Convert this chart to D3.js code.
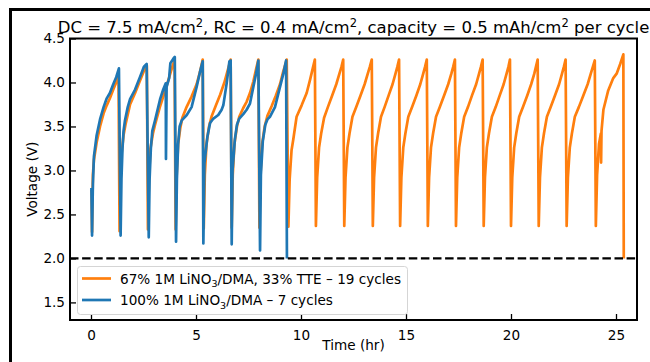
<!DOCTYPE html>
<html>
<head>
<meta charset="utf-8">
<script src="https://cdn.jsdelivr.net/npm/d3@7"></script>
<style>
  body { margin: 0; background: #fff; }
  svg { display: block; font-family: 'DejaVu Sans', sans-serif; }
</style>
</head>
<body>
<svg id="chart"></svg>
<script>
const WIDTH = 650;
const HEIGHT = 362;

// [time (hr), voltage (V)]
const ttePoints = [
	[0.03, 2.78], [0.05, 2.30], [0.09, 2.95], [0.14, 3.12], [0.27, 3.32], [0.43, 3.50], [0.60, 3.65], [0.75, 3.74], [0.90, 3.82], [1.06, 3.92], [1.20, 4.00], [1.31, 4.08],
	[1.36, 2.31], [1.40, 2.85], [1.46, 3.20], [1.55, 3.40], [1.65, 3.53], [1.86, 3.75], [2.10, 3.88], [2.33, 4.02], [2.52, 4.13], [2.66, 4.19],
	[2.71, 2.33], [2.76, 2.90], [2.83, 3.25], [2.95, 3.42], [3.05, 3.52], [3.29, 3.73], [3.44, 3.84], [3.60, 3.96], [3.75, 4.08], [3.90, 4.20], [3.98, 4.25],
	[4.03, 2.33], [4.08, 2.95], [4.15, 3.30], [4.25, 3.48], [4.35, 3.60], [4.55, 3.72], [4.79, 3.84], [5.03, 3.98], [5.19, 4.12], [5.32, 4.26],
	[5.37, 2.34], [5.42, 2.95], [5.50, 3.30], [5.62, 3.50], [5.75, 3.62], [5.95, 3.74], [6.15, 3.86], [6.35, 4.00], [6.50, 4.13], [6.65, 4.26],
	[6.70, 2.35], [6.75, 2.95], [6.83, 3.30], [6.95, 3.50], [7.06, 3.61], [7.25, 3.71], [7.41, 3.78], [7.57, 3.88], [7.73, 4.01], [7.87, 4.16], [7.97, 4.26],
	[8.02, 2.35], [8.07, 2.95], [8.15, 3.30], [8.27, 3.50], [8.40, 3.62], [8.60, 3.73], [8.80, 3.85], [9.00, 3.98], [9.15, 4.12], [9.32, 4.26],
	[9.40, 2.36], [9.46, 2.90], [9.55, 3.23], [9.63, 3.35], [9.79, 3.61], [10.03, 3.74], [10.27, 3.88], [10.43, 4.03], [10.56, 4.16], [10.66, 4.26],
	[10.71, 2.37], [10.77, 2.92], [10.86, 3.26], [10.96, 3.42], [11.10, 3.60], [11.28, 3.72], [11.48, 3.85], [11.68, 3.98], [11.83, 4.10], [11.93, 4.18], [12.01, 4.26],
	[12.06, 2.37], [12.12, 2.92], [12.21, 3.26], [12.31, 3.42], [12.45, 3.61], [12.63, 3.72], [12.83, 3.85], [13.03, 3.98], [13.18, 4.10], [13.28, 4.18], [13.37, 4.26],
	[13.42, 2.37], [13.48, 2.92], [13.57, 3.26], [13.67, 3.42], [13.81, 3.61], [13.98, 3.72], [14.17, 3.85], [14.36, 3.98], [14.50, 4.10], [14.59, 4.18], [14.67, 4.26],
	[14.72, 2.37], [14.78, 2.92], [14.87, 3.26], [14.97, 3.42], [15.11, 3.61], [15.29, 3.72], [15.49, 3.85], [15.68, 3.98], [15.82, 4.10], [15.91, 4.18], [15.99, 4.26],
	[16.04, 2.37], [16.10, 2.92], [16.19, 3.26], [16.29, 3.42], [16.43, 3.61], [16.61, 3.72], [16.81, 3.85], [17.01, 3.98], [17.16, 4.10], [17.25, 4.18], [17.33, 4.26],
	[17.38, 2.37], [17.44, 2.92], [17.53, 3.26], [17.63, 3.42], [17.77, 3.61], [17.95, 3.72], [18.14, 3.85], [18.34, 3.98], [18.48, 4.10], [18.57, 4.18], [18.65, 4.26],
	[18.70, 2.37], [18.76, 2.92], [18.85, 3.26], [18.95, 3.42], [19.09, 3.61], [19.27, 3.72], [19.46, 3.85], [19.65, 3.98], [19.79, 4.10], [19.88, 4.18], [19.95, 4.26],
	[20.00, 2.37], [20.06, 2.92], [20.15, 3.26], [20.25, 3.42], [20.39, 3.61], [20.57, 3.72], [20.77, 3.85], [20.96, 3.98], [21.11, 4.10], [21.19, 4.18], [21.27, 4.26],
	[21.32, 2.37], [21.38, 2.92], [21.47, 3.26], [21.57, 3.42], [21.71, 3.61], [21.89, 3.72], [22.09, 3.85], [22.29, 3.98], [22.43, 4.10], [22.52, 4.18], [22.60, 4.26],
	[22.65, 2.37], [22.71, 2.92], [22.80, 3.26], [22.90, 3.42], [23.04, 3.61], [23.23, 3.72], [23.44, 3.85], [23.65, 3.98], [23.80, 4.10], [23.90, 4.18], [23.99, 4.25],
	[24.04, 2.37], [24.10, 2.95], [24.19, 3.30], [24.28, 3.42], [24.29, 3.09], [24.31, 3.45], [24.40, 3.69], [24.63, 3.91], [24.87, 4.05], [25.03, 4.10], [25.20, 4.21], [25.35, 4.32],
	[25.37, 2.00]
];

const dmaPoints = [
	[0.02, 2.80], [0.05, 2.26], [0.09, 2.85], [0.14, 3.16], [0.27, 3.40], [0.43, 3.58], [0.60, 3.72], [0.75, 3.82], [0.90, 3.88], [1.06, 3.98], [1.20, 4.06], [1.33, 4.16],
	[1.41, 2.26], [1.45, 2.90], [1.50, 3.25], [1.55, 3.45], [1.62, 3.57], [1.75, 3.72], [1.86, 3.81], [2.10, 3.92], [2.33, 4.06], [2.52, 4.18], [2.65, 4.21],
	[2.75, 2.24], [2.79, 2.90], [2.85, 3.25], [2.92, 3.45], [3.05, 3.57], [3.29, 3.81], [3.44, 3.92], [3.56, 3.99], [3.57, 3.13], [3.60, 3.95], [3.72, 4.05], [3.78, 4.22], [3.92, 4.27], [3.99, 4.29],
	[4.05, 2.19], [4.09, 2.90], [4.15, 3.30], [4.22, 3.50], [4.32, 3.57], [4.56, 3.63], [4.79, 3.72], [5.03, 3.95], [5.19, 4.12], [5.32, 4.24],
	[5.35, 2.17], [5.40, 3.08], [5.54, 3.38], [5.67, 3.54], [5.83, 3.59], [6.06, 3.63], [6.22, 3.69], [6.30, 3.74], [6.46, 3.99], [6.59, 4.24], [6.65, 4.25],
	[6.70, 2.16], [6.74, 3.00], [6.85, 3.35], [6.95, 3.52], [7.06, 3.59], [7.25, 3.64], [7.41, 3.69], [7.57, 3.76], [7.73, 3.95], [7.86, 4.10], [7.97, 4.25],
	[8.05, 2.09], [8.09, 2.95], [8.18, 3.33], [8.30, 3.52], [8.40, 3.58], [8.52, 3.61], [8.76, 3.72], [9.00, 3.95], [9.16, 4.10], [9.29, 4.25],
	[9.33, 2.00]
];

const xTicks = [0, 5, 10, 15, 20, 25];
const yTicks = [1.5, 2.0, 2.5, 3.0, 3.5, 4.0, 4.5];
const cutoffVoltage = 2.0;

const series = [
	{ name: 'tte', points: ttePoints, color: '#ff7f0e', label: ['67% 1M LiNO', '3', '/DMA, 33% TTE \u2013 19 cycles'] },
	{ name: 'dma', points: dmaPoints, color: '#1f77b4', label: ['100% 1M LiNO', '3', '/DMA \u2013 7 cycles'] }
];

const margin = { left: 70, right: 13, top: 38.5, bottom: 42 };

const svg = d3.select('#chart').attr('width', WIDTH).attr('height', HEIGHT);

const x = d3.scaleLinear().domain([-1, 26]).range([margin.left, WIDTH - margin.right]);
const y = d3.scaleLinear().domain([1.3, 4.5]).range([HEIGHT - margin.bottom, margin.top]);

// figure frame (cropped)
svg.append('rect')
	.attr('x', 10.5).attr('y', 9.5)
	.attr('width', 700).attr('height', 400)
	.attr('fill', 'none')
	.attr('stroke', '#000')
	.attr('stroke-width', 3);

const canvas = svg.append('g');

// clip for data
canvas.append('clipPath').attr('id', 'plot-clip')
	.append('rect')
	.attr('x', x.range()[0]).attr('y', y.range()[1])
	.attr('width', x.range()[1] - x.range()[0])
	.attr('height', y.range()[0] - y.range()[1]);

// LINES
const line = d3.line().x((d) => x(d[0])).y((d) => y(d[1]));

canvas.append('g')
	.attr('clip-path', 'url(#plot-clip)')
	.selectAll('path')
	.data(series)
	.enter()
	.append('path')
	.attr('d', (d) => line(d.points))
	.attr('fill', 'none')
	.attr('stroke', (d) => d.color)
	.attr('stroke-width', 2.7)
	.attr('stroke-linejoin', 'round')
	.attr('stroke-linecap', 'butt');

// cutoff
canvas.append('line')
	.attr('x1', x.range()[0]).attr('x2', x.range()[1])
	.attr('y1', y(cutoffVoltage)).attr('y2', y(cutoffVoltage))
	.attr('stroke', '#000')
	.attr('stroke-width', 2.4)
	.attr('stroke-dasharray', '8.5,3.6');

// AXES
const xAxis = canvas.append('g')
	.attr('transform', `translate(0,${y.range()[0]})`)
	.call(d3.axisBottom(x).tickValues(xTicks).tickSizeInner(-6).tickSizeOuter(0).tickPadding(10).tickFormat(d3.format('d')));

const yAxis = canvas.append('g')
	.attr('transform', `translate(${x.range()[0]},0)`)
	.call(d3.axisLeft(y).tickValues(yTicks).tickSizeInner(-6).tickSizeOuter(0).tickPadding(5).tickFormat(d3.format('.1f')));

[xAxis, yAxis].forEach((ax) => {
	ax.select('.domain').remove();
	ax.selectAll('.tick line').attr('stroke', '#000').attr('stroke-width', 1.3);
	ax.selectAll('.tick text')
		.attr('fill', '#000')
		.attr('font-size', '13.6px')
		.attr('font-family', 'DejaVu Sans');
});

// spines
canvas.append('rect')
	.attr('x', x.range()[0]).attr('y', y.range()[1])
	.attr('width', x.range()[1] - x.range()[0])
	.attr('height', y.range()[0] - y.range()[1])
	.attr('fill', 'none')
	.attr('stroke', '#000')
	.attr('stroke-width', 2);

// labels
svg.append('text')
	.attr('x', (x.range()[0] + x.range()[1]) / 2)
	.attr('y', 350)
	.attr('text-anchor', 'middle')
	.attr('font-size', '13.6px')
	.text('Time (hr)');

svg.append('text')
	.attr('transform', `translate(37,${(y.range()[0] + y.range()[1]) / 2}) rotate(-90)`)
	.attr('text-anchor', 'middle')
	.attr('font-size', '13.6px')
	.text('Voltage (V)');

// title with superscripts
const title = svg.append('text')
	.attr('x', (x.range()[0] + x.range()[1]) / 2)
	.attr('y', 33)
	.attr('text-anchor', 'middle')
	.attr('font-size', '16.5px');

const titleParts = [
	['DC = 7.5 mA/cm', 0], ['2', -6], [', RC = 0.4 mA/cm', 6], ['2', -6],
	[', capacity = 0.5 mAh/cm', 6], ['2', -6], [' per cycle', 6]
];
titleParts.forEach(([t, shift]) => {
	title.append('tspan')
		.attr('dy', shift)
		.attr('font-size', shift < 0 ? '11.5px' : null)
		.text(t);
});

// LEGEND
const legend = svg.append('g').attr('transform', 'translate(77,266)');

legend.append('rect')
	.attr('x', 0.5).attr('y', 0.5)
	.attr('width', 330).attr('height', 48)
	.attr('rx', 3)
	.attr('fill', '#fff')
	.attr('fill-opacity', 0.8)
	.attr('stroke', '#d5d5d5')
	.attr('stroke-width', 1);

const legendItems = legend.selectAll('g.item')
	.data(series)
	.enter()
	.append('g')
	.attr('class', 'item')
	.attr('transform', (d, i) => `translate(0,${12.5 + i * 21.5})`);

legendItems.append('line')
	.attr('x1', 5).attr('x2', 34)
	.attr('stroke', (d) => d.color)
	.attr('stroke-width', 2.7);

const legendText = legendItems.append('text')
	.attr('x', 43)
	.attr('y', 5)
	.attr('font-size', '13.6px');

legendText.each(function (d) {
	const t = d3.select(this);
	t.append('tspan').text(d.label[0]);
	t.append('tspan').attr('dy', 3.5).attr('font-size', '9.5px').text(d.label[1]);
	t.append('tspan').attr('dy', -3.5).text(d.label[2]);
});
</script>
</body>
</html>
